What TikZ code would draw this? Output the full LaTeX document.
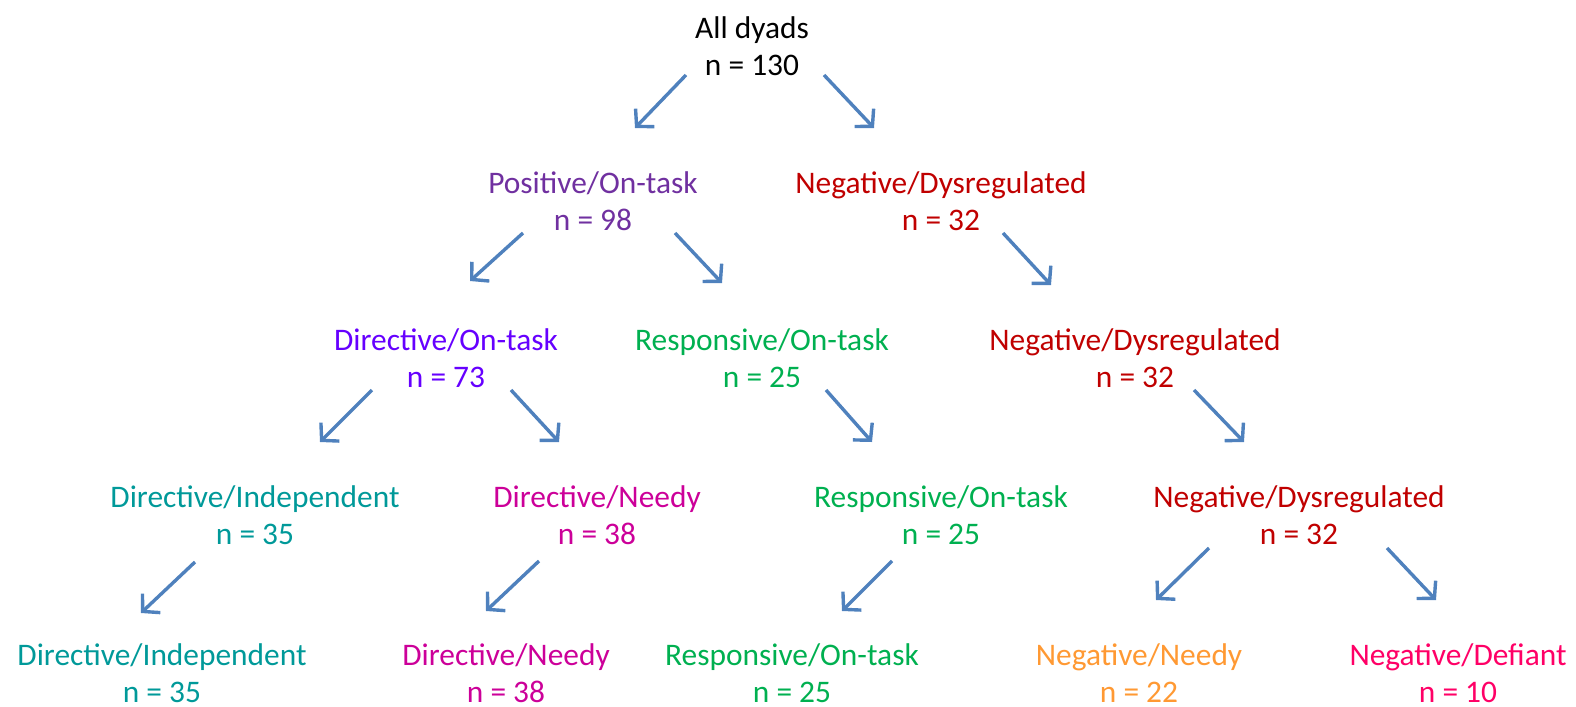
\documentclass[tikz,border=0pt]{standalone}
\usepackage{fontspec}
\setmainfont{Carlito}
\usepackage{xcolor}
\usetikzlibrary{arrows.meta}

\definecolor{linkblue}{RGB}{79,129,189}
\definecolor{posviolet}{RGB}{112,48,160}
\definecolor{negred}{RGB}{192,0,0}
\definecolor{dirviolet}{RGB}{102,0,255}
\definecolor{respgreen}{RGB}{0,176,80}
\definecolor{indteal}{RGB}{0,153,153}
\definecolor{needymag}{RGB}{204,0,153}
\definecolor{nneedyorange}{RGB}{255,153,51}
\definecolor{defiantpink}{RGB}{255,0,102}

\begin{document}
\begin{tikzpicture}[
        x=0.5pt, y=-0.5pt,
        group/.style={
            align=center,
            inner sep=0pt,
            font=\fontsize{15.7}{18.5}\selectfont
        },
        link/.style={-{Straight Barb[length=6pt,width=13pt]}, line width=1.7pt, draw=linkblue}
    ]

    \useasboundingbox (0,0) rectangle (1576,707);

    % level 0
    \node (all)     [group] at (752,46) {All dyads\\n = 130};

    % level 1
    \node (pos)     [group, text=posviolet] at (593,201) {Positive/On-task\\n = 98};
    \node (neg1)    [group, text=negred] at (941,201) {Negative/Dysregulated\\n = 32};

    % level 2
    \node (dir)     [group, text=dirviolet] at (446,358) {Directive/On-task\\n = 73};
    \node (resp2)   [group, text=respgreen] at (762,358) {Responsive/On-task\\n = 25};
    \node (neg2)    [group, text=negred] at (1135,358) {Negative/Dysregulated\\n = 32};

    % level 3
    \node (ind3)    [group, text=indteal] at (255,515) {Directive/Independent\\n = 35};
    \node (needy3)  [group, text=needymag] at (597,515) {Directive/Needy\\n = 38};
    \node (resp3)   [group, text=respgreen] at (941,515) {Responsive/On-task\\n = 25};
    \node (neg3)    [group, text=negred] at (1299,515) {Negative/Dysregulated\\n = 32};

    % level 4
    \node (ind4)    [group, text=indteal] at (162,673) {Directive/Independent\\n = 35};
    \node (needy4)  [group, text=needymag] at (506,673) {Directive/Needy\\n = 38};
    \node (resp4)   [group, text=respgreen] at (792,673) {Responsive/On-task\\n = 25};
    \node (nneedy)  [group, text=nneedyorange] at (1139,673) {Negative/Needy\\n = 22};
    \node (defiant) [group, text=defiantpink] at (1458,673) {Negative/Defiant\\n = 10};

    \draw [link] ([shift={(-66,29)}]all.center) -- ([shift={(42,-73)}]pos.center);
    \draw [link] ([shift={(72,29)}]all.center) -- ([shift={(-67,-73)}]neg1.center);
    \draw [link] ([shift={(-70,32)}]pos.center) -- ([shift={(24,-77)}]dir.center);
    \draw [link] ([shift={(82,32)}]pos.center) -- ([shift={(-40,-75)}]resp2.center);
    \draw [link] ([shift={(62,32)}]neg1.center) -- ([shift={(-84,-73)}]neg2.center);
    \draw [link] ([shift={(-74,32)}]dir.center) -- ([shift={(65,-73)}]ind3.center);
    \draw [link] ([shift={(65,32)}]dir.center) -- ([shift={(-38,-73)}]needy3.center);
    \draw [link] ([shift={(64,32)}]resp2.center) -- ([shift={(-69,-73)}]resp3.center);
    \draw [link] ([shift={(59,32)}]neg2.center) -- ([shift={(-55,-73)}]neg3.center);
    \draw [link] ([shift={(-60,47)}]ind3.center) -- ([shift={(-21,-60)}]ind4.center);
    \draw [link] ([shift={(-58,46)}]needy3.center) -- ([shift={(-20,-62)}]needy4.center);
    \draw [link] ([shift={(-49,46)}]resp3.center) -- ([shift={(50,-62)}]resp4.center);
    \draw [link] ([shift={(-90,33)}]neg3.center) -- ([shift={(17,-73)}]nneedy.center);
    \draw [link] ([shift={(88,33)}]neg3.center) -- ([shift={(-22,-73)}]defiant.center);

    \end{tikzpicture}
\end{document}
